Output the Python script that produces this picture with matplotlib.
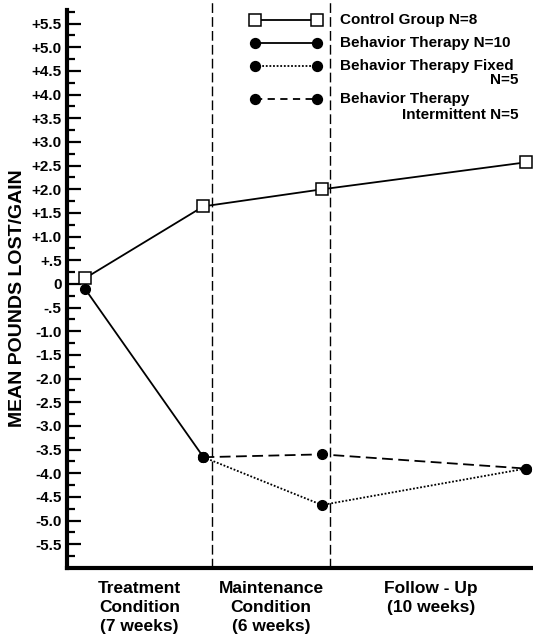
import matplotlib.pyplot as plt

plt.rcParams['font.family'] = ['Liberation Sans', 'DejaVu Sans']
plt.rcParams['font.weight'] = 'bold'

# x positions of the measurement points (treatment start, end of treatment,
# end of maintenance, end of follow-up)
x_pts = [0, 1, 2, 3.72]
control = [0.12, 1.64, 2.0, 2.57]
bt_all = [-0.1, -3.66]                # Behavior Therapy N=10 (solid)
bt_fixed = [-3.66, -4.67, -3.9]       # dotted, from end of treatment
bt_inter = [-3.66, -3.6, -3.9]        # dashed, from end of treatment
phase_bounds = [1.07, 2.07]

y_ticks = [5.5, 5.0, 4.5, 4.0, 3.5, 3.0, 2.5, 2.0, 1.5, 1.0, 0.5, 0,
           -0.5, -1.0, -1.5, -2.0, -2.5, -3.0, -3.5, -4.0, -4.5, -5.0, -5.5]
y_labels = ['+5.5', '+5.0', '+4.5', '+4.0', '+3.5', '+3.0', '+2.5', '+2.0',
            '+1.5', '+1.0', '+.5', '0', '-.5', '-1.0', '-1.5', '-2.0', '-2.5',
            '-3.0', '-3.5', '-4.0', '-4.5', '-5.0', '-5.5']
phase_labels = ['Treatment\nCondition\n(7 weeks)',
                'Maintenance\nCondition\n(6 weeks)',
                'Follow - Up\n(10 weeks)']
phase_centers = [0.46, 1.57, 2.92]

fig = plt.figure(figsize=(5.33, 6.36), dpi=100)
ax = fig.add_axes([0.126, 0.107, 0.874, 0.893])
ax.set_xlim(-0.15, 3.78)
ax.set_ylim(-6, 6)

# phase separators
for xb in phase_bounds:
    ax.axvline(xb, color='black', lw=1.0, ls=(0, (7, 3)), zorder=1)

ax.plot(x_pts, control, color='black', lw=1.3, marker='s', ms=8.5,
        mfc='white', mec='black', mew=1.1, zorder=3, clip_on=False)
ax.plot(x_pts[:2], bt_all, color='black', lw=1.3, marker='o', ms=7,
        zorder=2, clip_on=False)
ax.plot(x_pts[1:], bt_fixed, color='black', lw=1.3, ls=(0, (1, 1)),
        marker='o', ms=7, zorder=2, clip_on=False)
ax.plot(x_pts[1:], bt_inter, color='black', lw=1.3, ls=(0, (6, 3)),
        marker='o', ms=7, zorder=2, clip_on=False)

# axes styling
for s in ['top', 'right']:
    ax.spines[s].set_visible(False)
ax.spines['left'].set_linewidth(3)
ax.spines['bottom'].set_linewidth(3)
ax.spines['left'].set_bounds(-6, 5.78)
ax.set_yticks(y_ticks)
ax.set_yticklabels(y_labels, fontsize=11, fontweight='bold')
ax.set_yticks([v + 0.25 for v in y_ticks] + [-5.75], minor=True)
ax.tick_params(axis='y', which='major', direction='in', length=10, width=1.6, pad=4)
ax.tick_params(axis='y', which='minor', direction='in', length=6, width=1.6)
ax.set_xticks([])
ax.set_ylabel('MEAN POUNDS LOST/GAIN', fontsize=14, fontweight='bold', labelpad=2)
ax.yaxis.set_label_coords(-0.088, 0.475)

for xc, lab in zip(phase_centers, phase_labels):
    ax.text(xc, -6.28, lab, ha='center', va='top', fontsize=12.5,
            fontweight='bold', linespacing=1.32)

# legend drawn by hand
leg_styles = [('-', 's', 'white'), ('-', 'o', 'black'),
              ((0, (1, 1)), 'o', 'black'), ((0, (4, 3)), 'o', 'black')]
leg_texts = ['Control Group N=8', 'Behavior Therapy N=10',
             'Behavior Therapy Fixed', 'Behavior Therapy']
leg_y = [0.965, 0.924, 0.884, 0.826]
for (ls, mk, fc), txt, yy in zip(leg_styles, leg_texts, leg_y):
    ax.plot([0.403, 0.536], [yy, yy], transform=ax.transAxes, color='black',
            lw=1.3, ls=ls, marker=mk, ms=8 if mk == 's' else 7, mfc=fc,
            mec='black', mew=1.1)
    ax.text(0.586, yy, txt, transform=ax.transAxes, va='center', ha='left',
            fontsize=11, fontweight='bold')
ax.text(0.968, 0.86, 'N=5', transform=ax.transAxes, va='center', ha='right',
        fontsize=11, fontweight='bold')
ax.text(0.968, 0.798, 'Intermittent N=5', transform=ax.transAxes, va='center',
        ha='right', fontsize=11, fontweight='bold')

fig.savefig('out.png', dpi=100)
